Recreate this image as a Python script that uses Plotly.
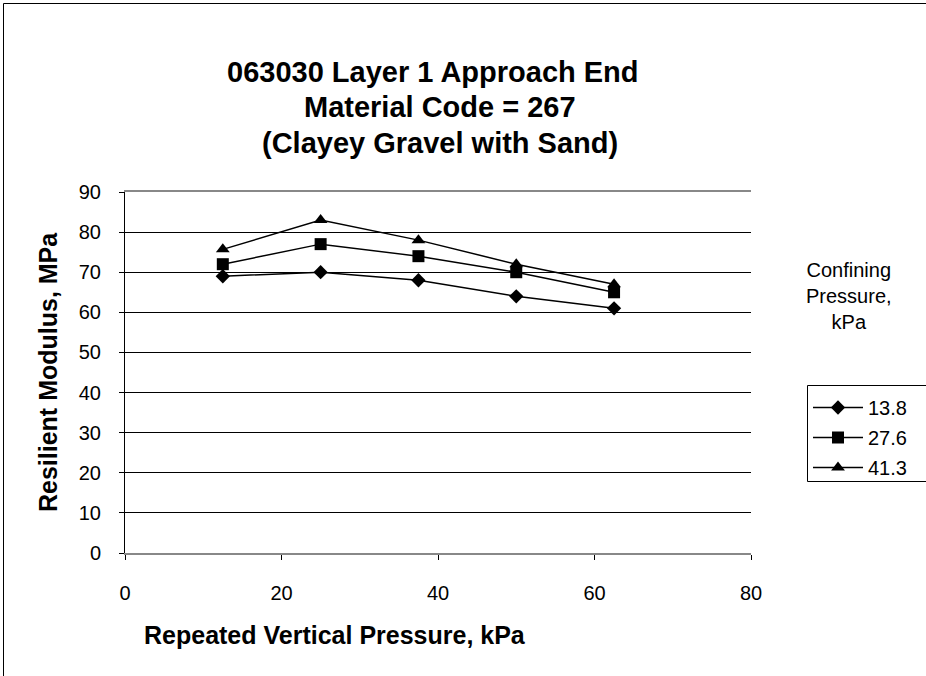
import plotly.graph_objects as go

# Data
vertical_pressure = [12.5, 25.0, 37.5, 50.0, 62.5]
series_names = ["13.8", "27.6", "41.3"]
mr_13_8 = [69.0, 70.0, 68.0, 64.0, 61.0]
mr_27_6 = [72.0, 77.0, 74.0, 70.0, 65.0]
mr_41_3 = [75.7, 83.0, 78.0, 72.0, 67.0]
symbols = ["diamond", "square", "triangle-up"]
marker_sizes = [11, 12, 12]
title_lines = ["063030 Layer 1 Approach End", "Material Code = 267", "(Clayey Gravel with Sand)"]

W, H = 926, 676
L, R, T, B = 125, 751, 192, 553  # plot area in px

def px_x(px):
    return (px - L) / (R - L)

def px_y(py):
    return (B - py) / (B - T)

fig = go.Figure()
for name, vals, sym, ms in zip(series_names, [mr_13_8, mr_27_6, mr_41_3], symbols, marker_sizes):
    fig.add_trace(go.Scatter(
        x=vertical_pressure, y=vals, name=name, mode="lines+markers",
        legendgroup=name,
        line=dict(color="black", width=1.5),
        marker=dict(symbol=sym, size=ms, color="black"),
    ))

font = "Liberation Sans, Arial, sans-serif"

title_pos = [(433, 72), (440, 107), (440, 143)]
annotations = []
for txt, (tx, ty) in zip(title_lines, title_pos):
    annotations.append(dict(text="<b>" + txt + "</b>",
                            x=px_x(tx), y=px_y(ty), xref="paper", yref="paper",
                            xanchor="center", yanchor="middle", showarrow=False,
                            font=dict(size=29)))
annotations += [
    dict(text="<b>Resilient Modulus, MPa</b>", textangle=-90,
         x=px_x(48), y=px_y(372), xref="paper", yref="paper",
         xanchor="center", yanchor="middle", showarrow=False,
         font=dict(size=25)),
    dict(text="<b>Repeated Vertical Pressure, kPa</b>",
         x=px_x(335), y=px_y(635), xref="paper", yref="paper",
         xanchor="center", yanchor="middle", showarrow=False,
         font=dict(size=25)),
    dict(text="Confining<br>Pressure,<br>kPa",
         x=px_x(849), y=px_y(296), xref="paper", yref="paper",
         xanchor="center", yanchor="middle", showarrow=False,
         font=dict(size=20), align="center"),
]

fig.update_layout(
    width=W, height=H,
    margin=dict(l=L, r=W - R, t=T, b=H - B, pad=0),
    paper_bgcolor="white", plot_bgcolor="white",
    font=dict(family=font, size=20, color="black"),
    showlegend=True,
    legend=dict(
        x=px_x(808), y=px_y(388), xanchor="left", yanchor="top",
        borderwidth=0, bgcolor="rgba(0,0,0,0)",
        font=dict(size=20), itemwidth=50, tracegroupgap=1,
    ),
    xaxis=dict(
        range=[0, 80], tickvals=[0, 20, 40, 60, 80],
        showgrid=False, zeroline=False,
        showline=True, linecolor="#888888", linewidth=1.5, mirror=True,
        ticks="outside", ticklen=5, tickcolor="black",
        tickfont=dict(size=20), ticklabelstandoff=16,
    ),
    yaxis=dict(
        range=[0, 90], tickvals=list(range(0, 91, 10)),
        showgrid=True, gridcolor="black", gridwidth=1, zeroline=False,
        showline=True, linecolor="black", linewidth=1,
        ticks="outside", ticklen=5, tickcolor="black",
        tickfont=dict(size=20), ticklabelstandoff=14,
    ),
    annotations=annotations,
    shapes=[
        dict(type="line", xref="paper", yref="paper",
             x0=px_x(3.5), x1=px_x(3.5), y0=px_y(3.5), y1=px_y(700),
             line=dict(color="black", width=1)),
        dict(type="line", xref="paper", yref="paper",
             x0=px_x(3.5), x1=px_x(960), y0=px_y(3.5), y1=px_y(3.5),
             line=dict(color="black", width=1)),
        dict(type="rect", xref="paper", yref="paper",
             x0=px_x(807.5), x1=px_x(960), y0=px_y(481.5), y1=px_y(385.5),
             line=dict(color="black", width=1), fillcolor="rgba(0,0,0,0)",
             layer="above"),
    ],
)

fig.write_html("out.html", config={"displayModeBar": False},
               post_script="document.body.style.margin='0';")
